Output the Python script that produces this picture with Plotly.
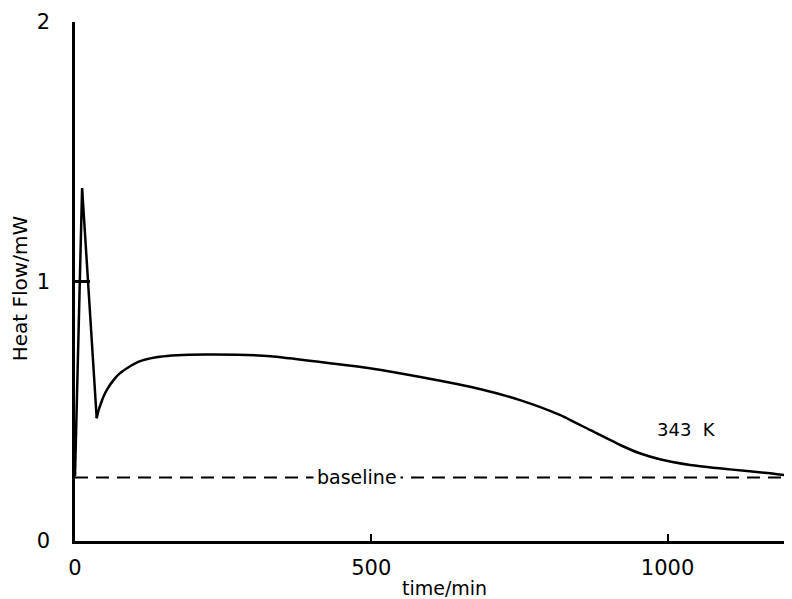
import plotly.graph_objects as go

# Heat flow curve at 343 K
# sharp exothermic spike at the start
spike_time = [0, 12, 36.6]
spike_flow = [0.25, 1.36, 0.473]
# smooth part of the curve after the minimum
time_min = [36.6, 40, 44, 48, 55, 65, 75, 87, 100, 115, 143, 172, 220, 273, 330, 414,
            500, 583, 683, 751, 818, 869, 920, 953, 987, 1038, 1105, 1173, 1210]
heat_flow = [0.473, 0.505, 0.532, 0.556, 0.587, 0.620, 0.645, 0.665, 0.683, 0.697, 0.710,
             0.716, 0.719, 0.718, 0.712, 0.690, 0.665, 0.632, 0.586, 0.543, 0.486, 0.428,
             0.370, 0.338, 0.315, 0.293, 0.276, 0.261, 0.250]

baseline_x = [0, 1210]
baseline_y = [0.245, 0.245]

x_ticks = [0, 500, 1000]
y_ticks = [0, 1, 2]

FONT = "DejaVu Sans"

fig = go.Figure()
fig.add_trace(go.Scatter(x=baseline_x, y=baseline_y, mode="lines",
                         line=dict(color="black", width=2, dash="13px,8px"),
                         hoverinfo="skip", showlegend=False))
fig.add_trace(go.Scatter(x=spike_time, y=spike_flow, mode="lines",
                         line=dict(color="black", width=2.5),
                         showlegend=False))
fig.add_trace(go.Scatter(x=time_min, y=heat_flow, mode="lines",
                         line=dict(color="black", width=2.5, shape="spline", smoothing=0.6),
                         showlegend=False))

fig.add_annotation(x=476, y=0.245, text="baseline", showarrow=False,
                   bgcolor="white", font=dict(family=FONT, size=19, color="black"),
                   borderpad=3)
fig.add_annotation(x=1032, y=0.43, text="343  K", showarrow=False,
                   font=dict(family=FONT, size=18, color="black"))

# axis titles
fig.add_annotation(xref="paper", yref="paper", x=0.515, y=0, yanchor="middle",
                   yshift=-47, text="time/min", showarrow=False,
                   font=dict(family=FONT, size=19, color="black"))
fig.add_annotation(xref="paper", yref="paper", x=0, y=0.487, xanchor="center",
                   yanchor="middle", xshift=-55, textangle=-90,
                   text="Heat Flow/mW", showarrow=False,
                   font=dict(family=FONT, size=20, color="black"))

# the page body has an 8px margin, so the figure is drawn 8px right/down
fig.update_layout(
    width=784, height=591,
    margin=dict(l=67, r=0, t=14, b=58),
    paper_bgcolor="white", plot_bgcolor="white",
    font=dict(family=FONT, color="black"),
    xaxis=dict(range=[0, 1210], tickvals=x_ticks, ticks="inside", ticklen=7,
               tickwidth=2, tickcolor="black", showline=True, linecolor="black",
               linewidth=2.5, showgrid=False, zeroline=False, automargin=False,
               tickfont=dict(family=FONT, size=21), ticklabelstandoff=6),
    yaxis=dict(range=[0, 2], tickvals=y_ticks, ticks="inside", ticklen=15,
               tickwidth=2.5, tickcolor="black", showline=True, linecolor="black",
               linewidth=2.5, showgrid=False, zeroline=False, automargin=False,
               tickfont=dict(family=FONT, size=21), ticklabelstandoff=18),
)

fig.write_html("out.html")
